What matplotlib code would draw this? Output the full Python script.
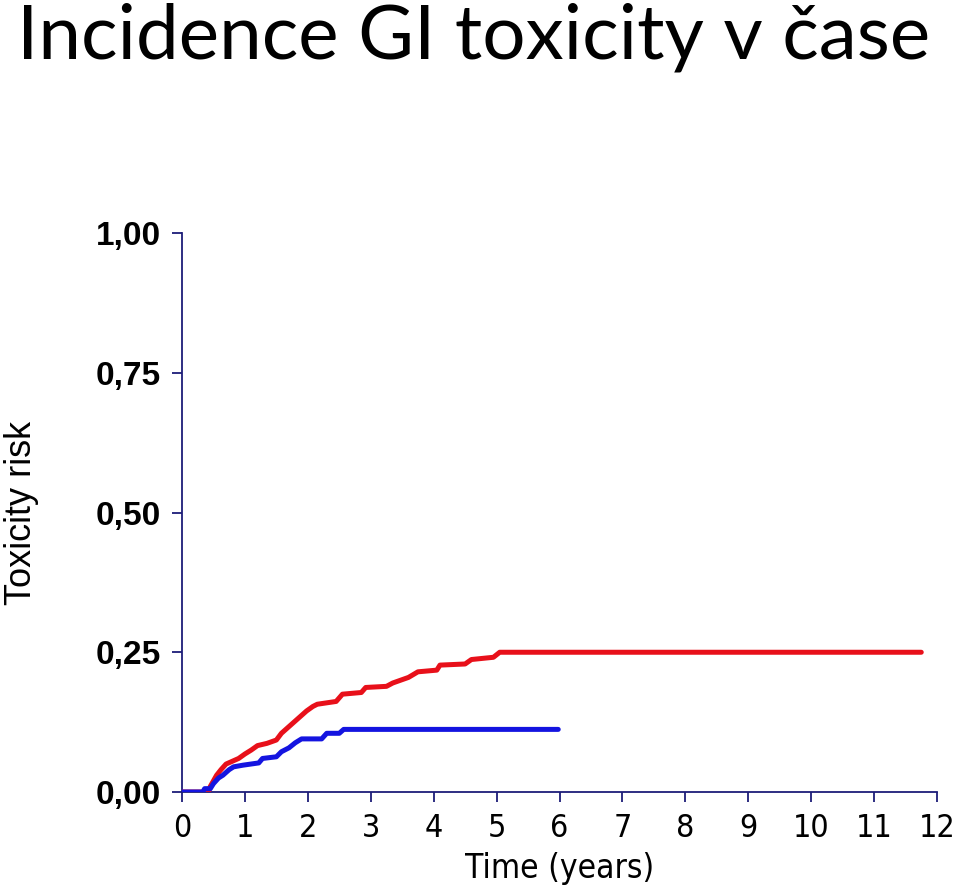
import matplotlib
matplotlib.use("Agg")
import matplotlib.pyplot as plt
from matplotlib.ticker import FixedLocator
from matplotlib import font_manager

red_t = [0, 0.42, 0.45, 0.5, 0.55, 0.62, 0.7, 0.8, 0.9, 1.0, 1.1, 1.2, 1.35, 1.5, 1.58, 1.68, 1.78, 1.88, 1.98, 2.08, 2.15,
         2.45, 2.55, 2.85, 2.92, 3.25, 3.35, 3.45, 3.6, 3.75, 4.05, 4.1, 4.5, 4.6, 4.95, 5.05, 11.75]
red_v = [0, 0, 0.01, 0.02, 0.03, 0.04, 0.05, 0.055, 0.06, 0.068, 0.075, 0.083, 0.087, 0.093, 0.105, 0.115, 0.125, 0.135, 0.145, 0.153, 0.157,
         0.162, 0.175, 0.178, 0.187, 0.189, 0.195, 0.199, 0.205, 0.215, 0.218, 0.227, 0.229, 0.237, 0.241, 0.25, 0.25]
blue_t = [0, 0.33, 0.36, 0.45, 0.5, 0.58, 0.65, 0.75, 0.82, 0.97, 1.22, 1.28, 1.5, 1.58, 1.7, 1.8, 1.9, 2.22, 2.3, 2.5, 2.57, 5.98]
blue_v = [0, 0, 0.006, 0.006, 0.015, 0.025, 0.03, 0.04, 0.045, 0.048, 0.052, 0.06, 0.063, 0.072, 0.079, 0.088, 0.095, 0.095, 0.105, 0.105, 0.112, 0.112]

x_ticks = list(range(0, 13))
y_ticks = [0, 0.25, 0.5, 0.75, 1.0]
y_labels = ["0,00", "0,25", "0,50", "0,75", "1,00"]

title = "Incidence GI toxicity v čase"

names = {f.name for f in font_manager.fontManager.ttflist}
narrow = "Liberation Sans Narrow" if "Liberation Sans Narrow" in names else "DejaVu Sans"
narrow_kw = dict(family=narrow)
if narrow == "DejaVu Sans":
    narrow_kw["stretch"] = "condensed"

fig = plt.figure(figsize=(9.6, 8.86), dpi=100)
fig.text(0.018, 0.958, title, fontsize=55, family="Lato", ha="left", va="center")

ax = fig.add_axes([182/960, 1-792/886, (937-182)/960, (792-233)/886])
ax.plot(red_t, red_v, color="#e8101a", lw=3.6, solid_capstyle="round", zorder=3)
ax.plot(blue_t, blue_v, color="#1414e0", lw=3.6, solid_capstyle="round", zorder=4)
ax.set_xlim(0, 12)
ax.set_ylim(0, 1)
ax.spines["top"].set_visible(False)
ax.spines["right"].set_visible(False)
navy = "#1c1c78"
for s in ["left", "bottom"]:
    ax.spines[s].set_color(navy)
    ax.spines[s].set_linewidth(1.3)
ax.xaxis.set_major_locator(FixedLocator(x_ticks))
ax.set_xticklabels([str(v) for v in x_ticks], fontsize=23, **narrow_kw)
ax.yaxis.set_major_locator(FixedLocator(y_ticks))
ax.set_yticklabels(y_labels, fontsize=24, family="Liberation Sans", fontweight="bold")
ax.tick_params(axis="both", direction="out", length=7, width=1.3, color=navy, pad=8)
ax.set_xlabel("Time (years)", fontsize=24, labelpad=6, **narrow_kw)
ax.set_ylabel("Toxicity risk", fontsize=26, family="Liberation Sans")
ax.yaxis.set_label_coords(-0.19, 0.5)
fig.savefig("out.png", dpi=100)
